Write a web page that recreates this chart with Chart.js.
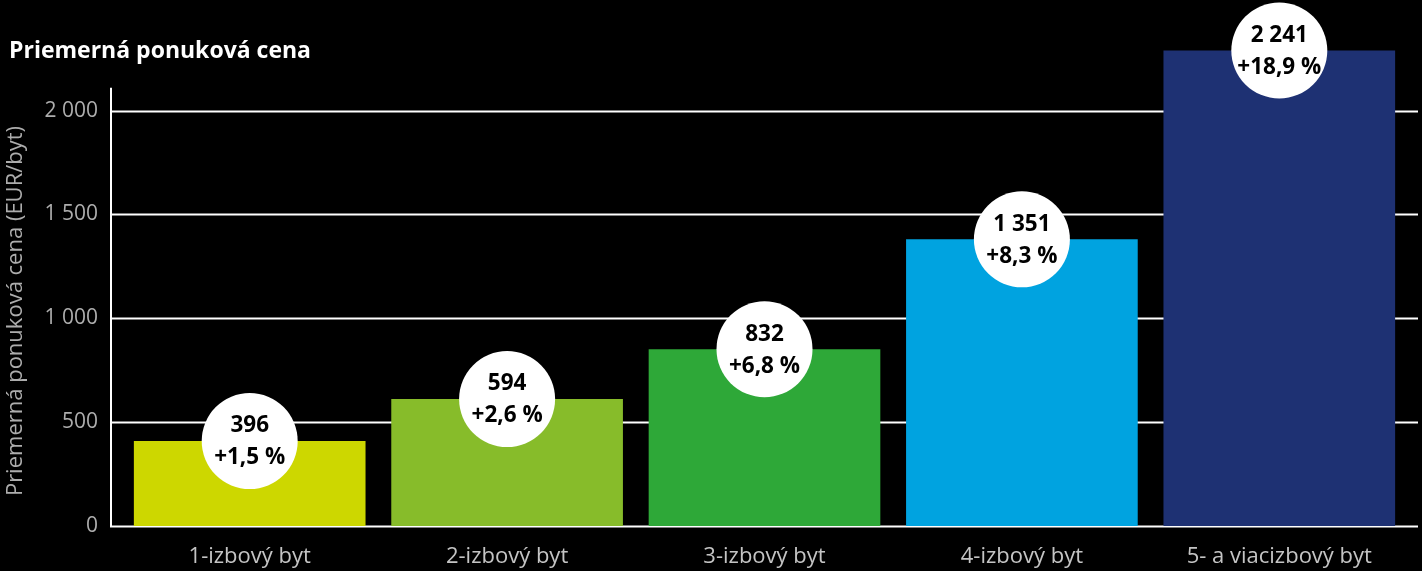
<!DOCTYPE html>
<html>
<head>
<meta charset="utf-8">
<script src="https://cdn.jsdelivr.net/npm/chart.js@4"></script>
<style>
  html, body { margin: 0; padding: 0; background: #000; }
  #wrap { position: relative; width: 1422px; height: 571px; }
  #title { position: absolute; left: 9px; top: 33px; color: #fff; font: bold 23px "Open Sans", sans-serif; }
</style>
</head>
<body>
<div id="wrap">
  <canvas id="myChart" width="1422" height="571"></canvas>
  <div id="title">Priemerná ponuková cena</div>
</div>
<script>
// data
var categories = ["1-izbový byt", "2-izbový byt", "3-izbový byt", "4-izbový byt", "5- a viacizbový byt"];
var barValues = [409, 611, 851, 1380, 2289];
var priceLabels = ["396", "594", "832", "1 351", "2 241"];
var changeLabels = ["+1,5 %", "+2,6 %", "+6,8 %", "+8,3 %", "+18,9 %"];
var barColors = ["#cdd700", "#87bc2a", "#2ea838", "#00a3e0", "#1e3173"];
var yTicks = [0, 500, 1000, 1500, 2000];
var yMax = 2070;
var axisTop = 2110;

var font = "'Open Sans', sans-serif";

// grid lines and axis, drawn under the bars
var gridPlugin = {
  id: "grid",
  beforeDatasetsDraw: function(chart) {
    var ctx = chart.ctx, y = chart.scales.y, a = chart.chartArea;
    ctx.save();
    ctx.strokeStyle = "#fff";
    ctx.lineWidth = 2;
    yTicks.forEach(function(v) {
      var p = Math.round(y.getPixelForValue(v)) + 0.5;
      ctx.beginPath();
      ctx.moveTo(a.left - 11, p);
      ctx.lineTo(a.right + 10, p);
      ctx.stroke();
    });
    ctx.beginPath();
    ctx.moveTo(a.left - 10, y.getPixelForValue(axisTop));
    ctx.lineTo(a.left - 10, y.getPixelForValue(0) + 1);
    ctx.stroke();
    ctx.restore();
  },
  // circle labels on top of bars
  afterDatasetsDraw: function(chart) {
    var ctx = chart.ctx;
    var meta = chart.getDatasetMeta(0);
    ctx.save();
    meta.data.forEach(function(bar, i) {
      var cx = bar.x, cy = bar.y;
      ctx.beginPath();
      ctx.arc(cx, cy, 48, 0, Math.PI * 2);
      ctx.fillStyle = "#fff";
      ctx.fill();
      ctx.fillStyle = "#000";
      ctx.textAlign = "center";
      ctx.textBaseline = "middle";
      ctx.font = "bold 22.5px " + font;
      ctx.fillText(priceLabels[i], cx, cy - 15);
      ctx.fillText(changeLabels[i], cx, cy + 17);
    });
    ctx.restore();
  }
};

new Chart("myChart", {
  type: "bar",
  data: {
    labels: categories,
    datasets: [{
      data: barValues,
      backgroundColor: barColors,
      borderWidth: 0,
      barPercentage: 0.9,
      categoryPercentage: 1,
      clip: false
    }]
  },
  options: {
    responsive: false,
    animation: false,
    layout: { padding: { top: 96, right: 14, left: 0, bottom: 0 } },
    plugins: { legend: { display: false }, tooltip: { enabled: false } },
    scales: {
      x: {
        grid: { display: false, drawTicks: false },
        border: { display: false },
        ticks: { color: "#c4c4c4", font: { family: font, size: 22 }, padding: 18 },
        afterFit: function(s) { s.height = 45; }
      },
      y: {
        min: 0,
        max: yMax,
        grid: { display: false, drawTicks: false },
        border: { display: false },
        afterBuildTicks: function(s) {
          s.ticks = yTicks.map(function(v) { return { value: v }; });
        },
        afterFit: function(s) { s.width = 121; },
        ticks: {
          color: "#adadad",
          font: { family: font, size: 21 },
          padding: 23,
          callback: function(v) { return String(v).replace(/\B(?=(\d{3})+(?!\d))/g, " "); }
        },
        title: {
          display: true,
          text: "Priemerná ponuková cena (EUR/byt)",
          color: "#adadad",
          font: { family: font, size: 22 },
          padding: { top: 3, bottom: 0 }
        }
      }
    }
  },
  plugins: [gridPlugin]
});
</script>
</body>
</html>
